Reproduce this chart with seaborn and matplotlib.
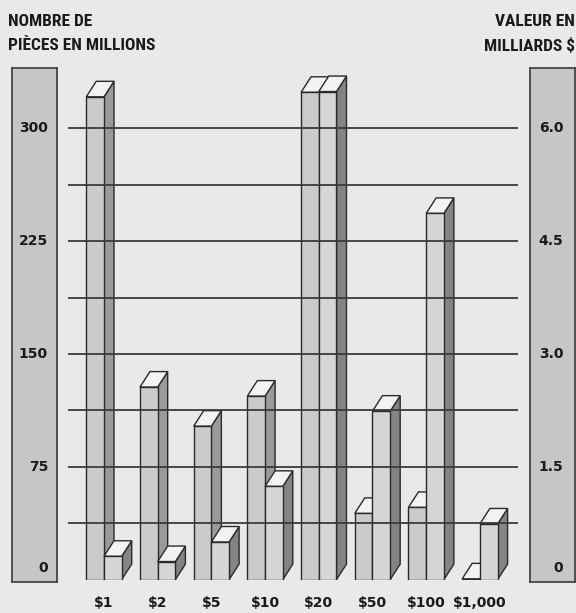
import matplotlib
matplotlib.use('Agg')
import matplotlib.pyplot as plt
from matplotlib import font_manager
from matplotlib.patches import Polygon
import pandas as pd
import seaborn as sns

# donnees
denominations = ['$1', '$2', '$5', '$10', '$20', '$50', '$100', '$1,000']
pieces_millions = [321, 128, 102, 122, 324, 44, 48, 0.5]
valeur_milliards = [0.31, 0.24, 0.50, 1.24, 6.49, 2.24, 4.87, 0.74]
ticks_gauche = [0, 75, 150, 225, 300]
ticks_droite = [0, 1.5, 3.0, 4.5, 6.0]
niveaux_grille = [37.5, 75, 112.5, 150, 187.5, 225, 262.5, 300]

W, H = 576, 613
FOND = '#e9e9e9'
BASE = 579.6          # pixel of zero
PX_PAR_UNITE = 1.504  # pixels per million pieces
RATIO = 300 / 6.0     # right scale vs left scale

sns.set_theme(style='white')
plt.rcParams['text.parse_math'] = False
plt.rcParams['font.family'] = ['DejaVu Sans']


def police_etroite():
    fonts = font_manager.fontManager.ttflist
    names = {f.name for f in fonts}
    for name in ['Liberation Sans Narrow', 'Roboto Condensed', 'Open Sans Condensed']:
        if name in names:
            return dict(family=[name, 'DejaVu Sans'])
    if any(f.name == 'DejaVu Sans' and str(f.stretch) == 'condensed' for f in fonts):
        return dict(family=['DejaVu Sans'], stretch='condensed')
    return dict(family=['DejaVu Sans'])


def boite(x0, y0, x1, y1):
    return [x0 / W, 1 - y1 / H, (x1 - x0) / W, (y1 - y0) / H]


def y_data(py):
    return (BASE - py) / PX_PAR_UNITE


fig = plt.figure(figsize=(W / 100, H / 100), dpi=100, facecolor=FOND)

# axe principal
ax = fig.add_axes(boite(68, 60, 518, BASE))
ax.set_facecolor(FOND)

df = pd.DataFrame({
    'denom': denominations * 2,
    'serie': ['pieces'] * len(denominations) + ['valeur'] * len(denominations),
    'hauteur': pieces_millions + [v * RATIO for v in valeur_milliards],
})
sns.barplot(df, x='denom', y='hauteur', hue='serie', order=denominations,
            hue_order=['pieces', 'valeur'],
            palette={'pieces': '#cbcbcb', 'valeur': '#d6d6d6'},
            width=0.66, saturation=1, errorbar=None, legend=False,
            edgecolor='#2a2a2a', linewidth=1.0, ax=ax)

# faces 3D (cote + dessus)
dx = 10 / 53.7
dy = 15.5 / PX_PAR_UNITE
cotes = {0: '#9a9a9a', 1: '#848484'}
bars = list(ax.patches)
n = len(denominations)
for i, p in enumerate(bars):
    s = i // n
    x0, w, h = p.get_x(), p.get_width(), p.get_height()
    x1 = x0 + w
    z = 2 + s
    p.set_zorder(z + 0.2)
    cote = Polygon([(x1, 0), (x1 + dx, dy), (x1 + dx, h + dy), (x1, h)],
                   closed=True, facecolor=cotes[s], edgecolor='#2a2a2a', lw=1.0, zorder=z)
    dessus = Polygon([(x0, h), (x0 + dx, h + dy), (x1 + dx, h + dy), (x1, h)],
                     closed=True, facecolor='#f3f3f3', edgecolor='#2a2a2a', lw=1.0, zorder=z + 0.1)
    ax.add_patch(cote)
    ax.add_patch(dessus)

for g in niveaux_grille:
    ax.axhline(g, color='#3a3a3a', lw=1.3, zorder=6)

ax.set_xlim(-0.67, 7.71)
ax.set_ylim(0, y_data(60))
ax.set_yticks([])
ax.set_xlabel('')
ax.set_ylabel('')
for sp in ax.spines.values():
    sp.set_visible(False)
ax.tick_params(axis='x', length=0, pad=12)
for lab in ax.get_xticklabels():
    lab.set_fontweight('bold')
    lab.set_fontsize(10)
    lab.set_color('#1a1a1a')

# panneaux lateraux
def panneau(pos, ymin, ymax, ticks, fmt, xlab):
    pa = fig.add_axes(pos)
    pa.set_facecolor('#c6c6c6')
    pa.set_ylim(ymin, ymax)
    pa.set_xlim(0, 1)
    pa.set_xticks([])
    pa.set_yticks([])
    for sp in pa.spines.values():
        sp.set_visible(True)
        sp.set_color('#444444')
        sp.set_linewidth(1.3)
    for t in ticks:
        yy = t if t > 0 else (ymax - ymin) * 0.022
        pa.text(xlab, yy, fmt(t), transform=pa.get_yaxis_transform(),
                ha='right', va='center', fontsize=10, fontweight='bold', color='#1a1a1a')
    return pa


panneau(boite(12, 68, 57, 582), y_data(582), y_data(68), ticks_gauche,
        lambda t: '%d' % t, 0.8)
panneau(boite(530, 68, 575, 582), y_data(582) / RATIO, y_data(68) / RATIO, ticks_droite,
        lambda t: '0' if t == 0 else '%.1f' % t, 0.74)

# titres
etroite = police_etroite()
fig.text(8 / W, 1 - 21 / H, 'NOMBRE DE', ha='left', va='center',
         fontsize=12.5, fontweight='bold', color='#1a1a1a', **etroite)
fig.text(8 / W, 1 - 46 / H, 'PIÈCES EN MILLIONS', ha='left', va='center',
         fontsize=12.5, fontweight='bold', color='#1a1a1a', **etroite)
fig.text(575 / W, 1 - 21 / H, 'VALEUR EN', ha='right', va='center',
         fontsize=12.5, fontweight='bold', color='#1a1a1a', **etroite)
fig.text(575 / W, 1 - 46 / H, 'MILLIARDS $', ha='right', va='center',
         fontsize=12.5, fontweight='bold', color='#1a1a1a', **etroite)

fig.savefig('out.png', dpi=100, facecolor=FOND)
